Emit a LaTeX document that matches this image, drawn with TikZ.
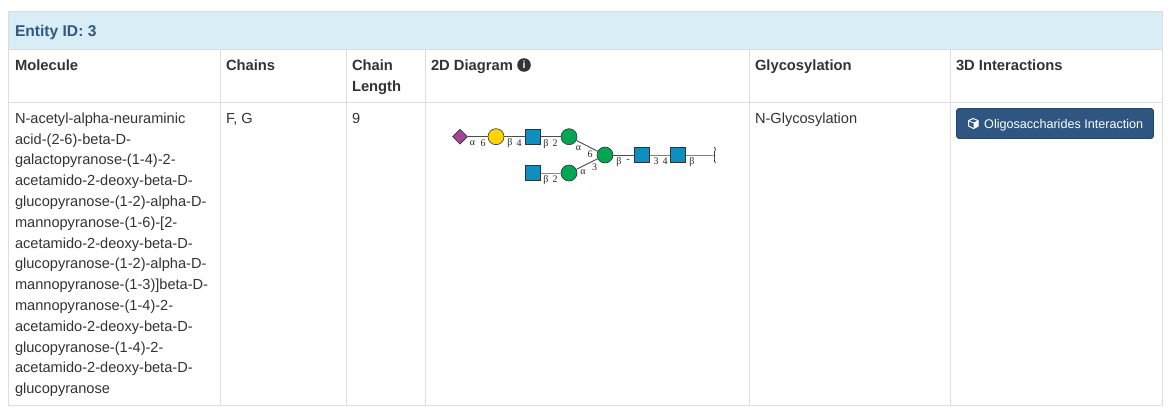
\documentclass[tikz,border=0pt]{standalone}
\usepackage{fontspec}
\setmainfont{Liberation Sans}
\newfontfamily\glyfont{Liberation Serif}
\usetikzlibrary{shapes.geometric}
\definecolor{rule}{HTML}{DDDDDD}
\definecolor{headbg}{HTML}{D9EDF7}
\definecolor{headfg}{HTML}{31587F}
\definecolor{ink}{HTML}{333333}
\definecolor{btn}{HTML}{2F5680}
\definecolor{btnedge}{HTML}{24476B}
\definecolor{gnblue}{HTML}{0F8FC0}
\definecolor{mangreen}{HTML}{00A651}
\definecolor{galyellow}{HTML}{FFD400}
\definecolor{siapurple}{HTML}{A54399}
\tikzset{
  x=1pt,y=-1pt,
  txt/.style={anchor=base west,inner sep=0pt,outer sep=0pt,font=\fontsize{14.6}{20.8}\selectfont,text=ink},
  thead/.style={txt,font=\fontsize{14.75}{20.8}\selectfont\bfseries},
  glab/.style={inner sep=0pt,font=\fontsize{10}{10}\glyfont,text=black!85},
  bond/.style={draw=black!70,line width=0.9pt},
  gsq/.style={draw=black!80,line width=0.6pt,fill=gnblue,minimum size=15.5pt,inner sep=0pt,rectangle},
  gcirc/.style={draw=black!80,line width=0.6pt,circle,minimum size=16pt,inner sep=0pt},
  gdia/.style={draw=black!80,line width=0.6pt,fill=siapurple,diamond,minimum width=15pt,minimum height=15pt,inner sep=0pt},
  rulel/.style={draw=rule,line width=1pt}
}
\begin{document}
\begin{tikzpicture}
\useasboundingbox (0,0) rectangle (1170,415);
\fill[white] (0,0) rectangle (1170,415);
% panel
\fill[headbg] (8,11) rectangle (1162,49);
\draw[rulel] (8,11) rectangle (1162,405);
\draw[rulel] (8,49) -- (1162,49);
\draw[rulel] (8,102) -- (1162,102);
\foreach \c in {220,346,425,749,950}{\draw[rulel] (\c,49) -- (\c,405);}
% headers
\node[thead,text=headfg,font=\fontsize{15.6}{20.8}\selectfont\bfseries] (entity) at (15,36.3) {Entity ID: 3};
\node[thead] (h1) at (15,70.5) {Molecule};
\node[thead] (h2) at (226,70.5) {Chains};
\node[thead,align=left] (h3) at (352,91.3) {Chain\\Length};
\node[thead] (h4) at (431,70.5) {2D Diagram};
\fill[ink] (524,65) circle (6.8);
\node[inner sep=0pt,font=\fontsize{10.5}{10.5}\selectfont\bfseries,text=white] (info) at (524,65) {i};
\node[thead] (h5) at (755,70.5) {Glycosylation};
\node[thead] (h6) at (956,70.5) {3D Interactions};
% body
\node[txt,align=left] (mol) at (15,393.6) {N-acetyl-alpha-neuraminic\\acid-(2-6)-beta-D-\\galactopyranose-(1-4)-2-\\acetamido-2-deoxy-beta-D-\\glucopyranose-(1-2)-alpha-D-\\mannopyranose-(1-6)-[2-\\acetamido-2-deoxy-beta-D-\\glucopyranose-(1-2)-alpha-D-\\mannopyranose-(1-3)]beta-D-\\mannopyranose-(1-4)-2-\\acetamido-2-deoxy-beta-D-\\glucopyranose-(1-4)-2-\\acetamido-2-deoxy-beta-D-\\glucopyranose};
\node[txt] (chains) at (226,123) {F, G};
\node[txt] (len) at (352,123) {9};
\node[txt] (gly) at (755,123) {N-Glycosylation};
% glycan
\coordinate (stub) at (713,155);
\node[gdia] (sia) at (460,136.7) {};
\node[gcirc,fill=galyellow] (gal) at (496,136.7) {};
\node[gsq] (nag1) at (533,136.7) {};
\node[gcirc,fill=mangreen] (man1) at (569,136.7) {};
\node[gsq] (nag2) at (533,173) {};
\node[gcirc,fill=mangreen] (man2) at (569,173) {};
\node[gcirc,fill=mangreen] (bman) at (605,155) {};
\node[gsq] (nag3) at (642,155) {};
\node[gsq] (nag4) at (678,155) {};
\draw[bond] (sia) -- (gal);
\draw[bond] (gal) -- (nag1);
\draw[bond] (nag1) -- (man1);
\draw[bond] (man1) -- (bman);
\draw[bond,draw=black!45] (nag2) -- (man2);
\draw[bond] (man2) -- (bman);
\draw[bond] (bman) -- (nag3);
\draw[bond,draw=black!50] (nag3) -- (nag4);
\draw[bond,draw=black!50] (nag4) -- (stub);
\draw[black,line width=0.6pt] (714.5,147) .. controls (717,150) and (713,152) .. (714.5,155) .. controls (716,158) and (713,160) .. (715.5,163);
\node[glab] (l1) at (472.5,143) {α};
\node[glab] (l2) at (483,143) {6};
\node[glab] (l3) at (510,143.5) {β};
\node[glab] (l4) at (519,143) {4};
\node[glab] (l5) at (546,144) {β};
\node[glab] (l6) at (555,143) {2};
\node[glab] (l7) at (578.5,148) {α};
\node[glab] (l8) at (590,154) {6};
\node[glab] (l9) at (546,180) {β};
\node[glab] (l10) at (555,179.5) {2};
\node[glab] (l11) at (583,172) {α};
\node[glab] (l12) at (594.5,167) {3};
\node[glab] (l13) at (619,162) {β};
\node[glab] (l14) at (628,161) {-};
\node[glab] (l15) at (656,161) {3};
\node[glab] (l16) at (665,161) {4};
\node[glab] (l17) at (692,162) {β};
% button
\node[draw=btnedge,fill=btn,rounded corners=2.5pt,line width=0.7pt,minimum width=197pt,minimum height=30pt,inner sep=0pt] (button) at (1055,123.5) {};
\node[anchor=base west,inner sep=0pt,text=white,font=\fontsize{12.6}{14}\selectfont] (btntext) at (984,128) {Oligosaccharides Interaction};
% cube icon
\draw[white,line width=1pt,line join=round,fill=btn] (973,118.5) -- (978.2,120.6) -- (978.2,126) -- (973.6,128.6) -- (968.6,126) -- (968.6,120.6) -- cycle;
\fill[white] (973.6,123) -- (978.2,120.8) -- (978.2,126) -- (973.6,128.6) -- cycle;
\draw[white,line width=0.8pt] (968.6,120.8) -- (973.6,123) -- (978.2,120.8);
\end{tikzpicture}
\end{document}
